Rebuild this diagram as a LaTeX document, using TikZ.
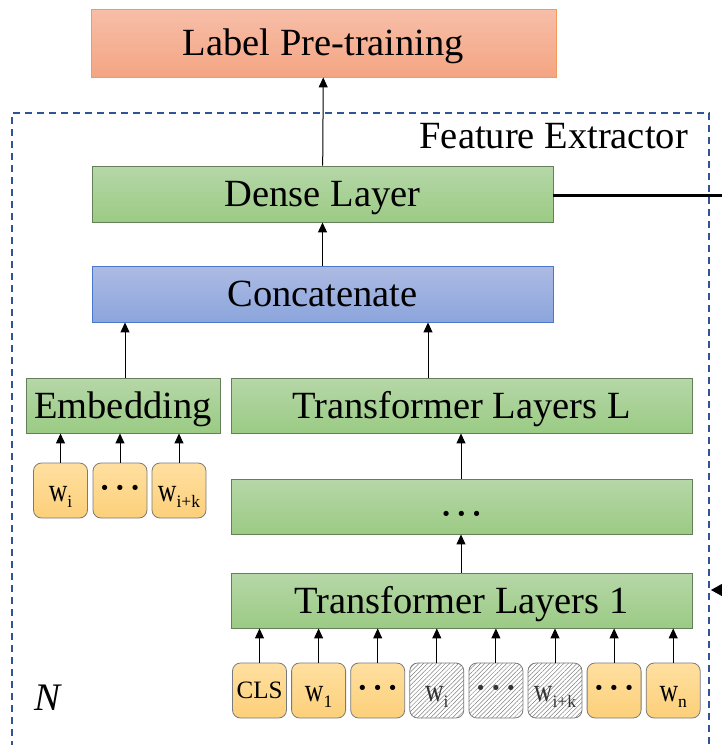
\documentclass[tikz,border=0pt]{standalone}
\usepackage{fontspec}
\setmainfont{Liberation Serif}
\newfontfamily\narrowserif[FakeStretch=0.78]{Liberation Serif}
\usetikzlibrary{arrows.meta,patterns.meta}

\definecolor{grnTop}{HTML}{B6D7A8}
\definecolor{grnBot}{HTML}{9BCB84}
\definecolor{grnLine}{HTML}{64805A}
\definecolor{bluTop}{HTML}{ADBBE3}
\definecolor{bluBot}{HTML}{8CA5DD}
\definecolor{bluLine}{HTML}{4A78C8}
\definecolor{orgTop}{HTML}{F7BEA8}
\definecolor{orgBot}{HTML}{F4A583}
\definecolor{orgLine}{HTML}{F39B5E}
\definecolor{ylwTop}{HTML}{FFDFA0}
\definecolor{ylwBot}{HTML}{FCD07A}
\definecolor{tokLine}{HTML}{7A7A7A}
\definecolor{frameBlue}{HTML}{2F5597}

% word token "w" with a subscript
\newcommand\tokw[1]{\raisebox{-3pt}{{\narrowserif\fontsize{33}{34}\selectfont w}\raisebox{-6pt}{\fontsize{17.5}{18}\selectfont #1}}}
% three bold centred dots
\newcommand\tokdots{{\fontsize{32}{32}\selectfont\bfseries ·\hspace{4.5pt}·\hspace{4.5pt}·}}

\tikzset{
  bigtext/.style={font=\fontsize{38.5}{40}\selectfont},
  layerbox/.style={bigtext, inner sep=0pt, line width=0.9pt, minimum height=55pt,
    text height=25.5pt, text depth=0pt},
  greenlayer/.style={layerbox, draw=grnLine, top color=grnTop, bottom color=grnBot},
  bluelayer/.style={layerbox, draw=bluLine, top color=bluTop, bottom color=bluBot},
  orangelayer/.style={layerbox, draw=orgLine, top color=orgTop, bottom color=orgBot},
  tokbase/.style={draw=tokLine, line width=0.8pt, rounded corners=8pt,
    minimum width=54pt, minimum height=55pt, inner sep=0pt,
    font=\fontsize{25}{26}\selectfont, text height=16.5pt, text depth=0pt},
  token/.style={tokbase, top color=ylwTop, bottom color=ylwBot},
  masked/.style={tokbase, text=black!80,
    pattern={Lines[angle=45,distance=3.1pt,line width=0.5pt]}, pattern color=black!50},
  arr/.style={-{Triangle[length=10pt,width=9pt]}, line width=1pt},
  frame/.style={draw=frameBlue, line width=1.8pt, dash pattern=on 7pt off 5pt},
}

\begin{document}
\begin{tikzpicture}[x=1pt,y=-1pt]
\useasboundingbox (0,0) rectangle (722,745);
\clip (0,0) rectangle (722,745);

% dashed outline of the feature extractor
\draw[frame] (12,760) -- (12,113) -- (709,113) -- (709,760);
\node[bigtext, anchor=base east, inner sep=0pt] (fe) at (688,148) {Feature Extractor};
\node[font=\fontsize{39}{40}\selectfont\itshape, inner sep=0pt] (nn) at (48,698) {N};

% layers
\node[orangelayer, minimum width=465pt, minimum height=68pt] (label) at (323.5,43) {Label Pre-training};
\node[greenlayer, minimum width=461pt, minimum height=56pt] (dense) at (322.5,194) {Dense Layer};
\node[bluelayer, minimum width=461pt, minimum height=56pt] (concat) at (322.5,294) {Concatenate};
\node[greenlayer, minimum width=194pt] (emb) at (123,405.5) {Embedding};
\node[greenlayer, minimum width=461pt] (tlL) at (461.5,405.5) {Transformer Layers L};
\node[greenlayer, minimum width=461pt] (tlmid) at (461.5,506.5) {\raisebox{-5pt}{\tokdots}};
\node[greenlayer, minimum width=461pt] (tl1) at (461.5,600.5) {Transformer Layers 1};

% embedding input tokens
\node[token] (e1) at (60.5,490.5) {\tokw{i}};
\node[token] (e2) at (120,490.5) {\tokdots};
\node[token] (e3) at (179,490.5) {\tokw{i+k}};

% transformer input tokens
\node[token]  (t1) at (259.5,690.5) {CLS};
\node[token]  (t2) at (318.6,690.5) {\tokw{1}};
\node[token]  (t3) at (377.7,690.5) {\tokdots};
\node[masked] (t4) at (436.8,690.5) {\tokw{i}};
\node[masked] (t5) at (495.9,690.5) {\tokdots};
\node[masked] (t6) at (555.0,690.5) {\tokw{i+k}};
\node[token]  (t7) at (614.1,690.5) {\tokdots};
\node[token]  (t8) at (673.2,690.5) {\tokw{n}};

% connector columns
\coordinate (xb) at (125,0);
\coordinate (xc) at (428,0);
\coordinate (xd) at (461,0);
\coordinate (edgeR) at (745,590);
\coordinate (frameR) at (711,590);
\coordinate (edgeD) at (722,195);

\draw[arr] (dense) -- (label);
\draw[arr] (concat) -- (dense);
\draw[arr] (emb.north -| xb) -- (concat.south -| xb);
\draw[arr] (tlL.north -| xc) -- (concat.south -| xc);
\draw[arr] (tlmid.north -| xd) -- (tlL.south -| xd);
\draw[arr] (tl1.north -| xd) -- (tlmid.south -| xd);

\foreach \t in {e1,e2,e3}
  \draw[arr] (\t.north) -- (\t.north |- emb.south);
\foreach \t in {t1,t2,t3,t4,t5,t6,t7,t8}
  \draw[arr] (\t.north) -- (\t.north |- tl1.south);

% outgoing and incoming links at the right edge
\draw[line width=3pt] (dense.east |- edgeD) -- (edgeD);
\draw[-{Triangle[length=11pt,width=12pt]}, line width=1pt] (edgeR) -- (frameR);
\end{tikzpicture}
\end{document}
